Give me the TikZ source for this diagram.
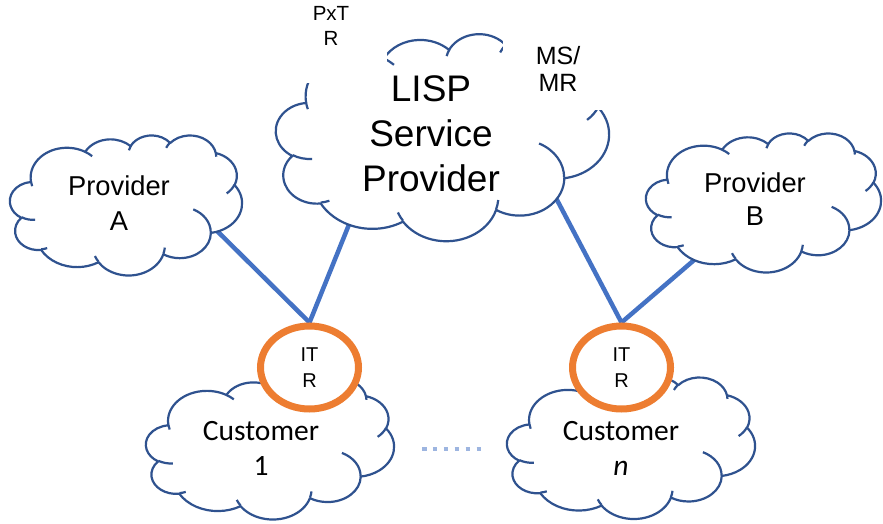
\documentclass[tikz,border=0pt]{standalone}
\usepackage{fontspec}
\setmainfont{Liberation Sans}
\newfontfamily\custfont{Carlito}
\usetikzlibrary{shapes.geometric}
\definecolor{cloudblue}{HTML}{2F528F}
\definecolor{linkblue}{HTML}{4472C4}
\definecolor{itrorange}{HTML}{ED7D31}
\definecolor{dotblue}{HTML}{9DB5E0}
\pgfdeclarelayer{bg}
\pgfsetlayers{bg,main}
% OOXML-style arcTo: radii, visual start angle, visual sweep (degrees)
\newcommand\carc[4]{arc[start angle={atan2(#1*sin(#3),#2*cos(#3))}, delta angle={mod(atan2(#1*sin((#3)+(#4)),#2*cos((#3)+(#4)))-atan2(#1*sin(#3),#2*cos(#3))+720,360)}, x radius=#1, y radius=#2]}
\newcommand\drawcloud[4]{%
  \pgfmathsetmacro\cloudsx{#3/43.2}%
  \pgfmathsetmacro\cloudsy{#4/43.2}%
  \begin{scope}[shift={(#1pt,-#2pt)},x=\cloudsx pt,y=-\cloudsy pt]
    \filldraw[cloudline,fill=white] (3.9,14.37)
      \carc{6.753}{9.190}{-190.4875}{123.7805}
      \carc{5.333}{7.267}{-144.1024}{89.9452}
      \carc{4.365}{5.945}{-145.8079}{99.7230}
      \carc{4.857}{6.595}{-130.9861}{117.2417}
      \carc{5.333}{7.273}{-78.7089}{109.0269}
      \carc{6.775}{9.220}{-46.2673}{130.2690}
      \carc{5.785}{7.867}{0.6250}{114.0333}
      \carc{6.752}{9.215}{22.4516}{115.1726}
      \carc{7.720}{10.543}{66.2426}{75.7110}
      \carc{4.360}{5.918}{-274.9421}{146.7356}
      \carc{4.345}{5.945}{-246.8285}{152.5189}
      -- cycle;
    \draw[cloudline] (4.693,26.177) \carc{4.345}{5.945}{86.7420}{26.4295}
      (6.928,34.899) \carc{4.360}{5.918}{73.6105}{11.4475}
      (16.478,39.090) \carc{6.752}{9.215}{137.6242}{14.0811}
      (28.827,34.751) \carc{6.752}{9.215}{6.4533}{15.9984}
      (34.129,22.954) \carc{5.785}{7.867}{-70.2924}{70.9174}
      (41.798,15.354) \carc{5.333}{7.273}{30.3180}{27.7515}
      (38.324,5.426) \carc{4.857}{6.595}{-13.7443}{14.8589}
      (29.078,3.952) \carc{4.857}{6.595}{-149.1815}{18.1954}
      (22.141,4.720) \carc{4.365}{5.945}{-163.4943}{17.6864}
      (14.000,5.192) \carc{6.753}{9.190}{-66.7070}{12.3194}
      (4.127,15.789) \carc{6.753}{9.190}{157.6544}{11.8582};
  \end{scope}}
\tikzset{
  cloudline/.style={draw=cloudblue,line width=2.2pt,line join=round},
  link/.style={draw=linkblue,line width=4.5pt},
  dotline/.style={draw=dotblue,line width=4.5pt,dash pattern=on 4.5pt off 6.4pt},
  lbl/.style={align=center,inner sep=0pt,text=black},
  itr/.style={ellipse,draw=itrorange,line width=7pt,fill=white,minimum width=98pt,minimum height=83pt,inner sep=0pt,align=center,font=\fontsize{20}{26}\selectfont},
  custlbl/.style={lbl,font=\custfont\fontsize{29.5}{35}\selectfont}
}
\begin{document}
\begin{tikzpicture}[x=1pt,y=-1pt]
\useasboundingbox (0,0) rectangle (883,524);
\begin{pgfonlayer}{bg}
  \fill[white] (0,0) rectangle (883,524);
\end{pgfonlayer}
% clouds
\drawcloud{10}{135}{232}{140}
\drawcloud{646}{133}{235}{139}
\drawcloud{276}{33.5}{333}{207}
\drawcloud{146}{378}{248}{141}
\drawcloud{507}{377}{248}{141.5}
% text boxes covering the service cloud
\fill[white] (275,0) rectangle (387,83);
\fill[white] (503,28) rectangle (613,110);
% labels
\node[lbl,font=\fontsize{20.5}{24.5}\selectfont] (pxtr) at (331,25.9) {PxT\\R};
\node[lbl,font=\fontsize{25}{27}\selectfont] (msmr) at (558,69.4) {MS/\\MR};
\node[lbl,font=\fontsize{37}{45}\selectfont] (lisp) at (431,133.5) {LISP\\Service\\Provider};
\node[lbl,font=\fontsize{27.3}{35}\selectfont] (provA) at (119,202.7) {Provider\\A};
\node[lbl,font=\fontsize{27.3}{33}\selectfont] (provB) at (755,198.7) {Provider\\B};
\node[custlbl] (cust1) at (261,448) {Customer\\1};
\node[custlbl] (custn) at (621,448) {Customer\\\textit{n}};
% ITR routers
\node[itr] (itr1) at (309.5,367.5) {IT\\R};
\node[itr] (itr2) at (621.5,367.5) {IT\\R};
% connector end points inside the clouds
\coordinate (pa) at (213.8,227.7);
\coordinate (ls1) at (351,219.6);
\coordinate (ls2) at (553.3,192.9);
\coordinate (pb) at (698,256.7);
\begin{pgfonlayer}{bg}
  \draw[link] (pa) -- (itr1.north);
  \draw[link] (ls1) -- (itr1.north);
  \draw[link] (ls2) -- (itr2.north);
  \draw[link] (pb) -- (itr2.north);
\end{pgfonlayer}
% dotted continuation between customers
\coordinate (dl) at (422,449);
\coordinate (dr) at (481,449);
\draw[dotline] (dl) -- (dr);
\end{tikzpicture}
\end{document}
